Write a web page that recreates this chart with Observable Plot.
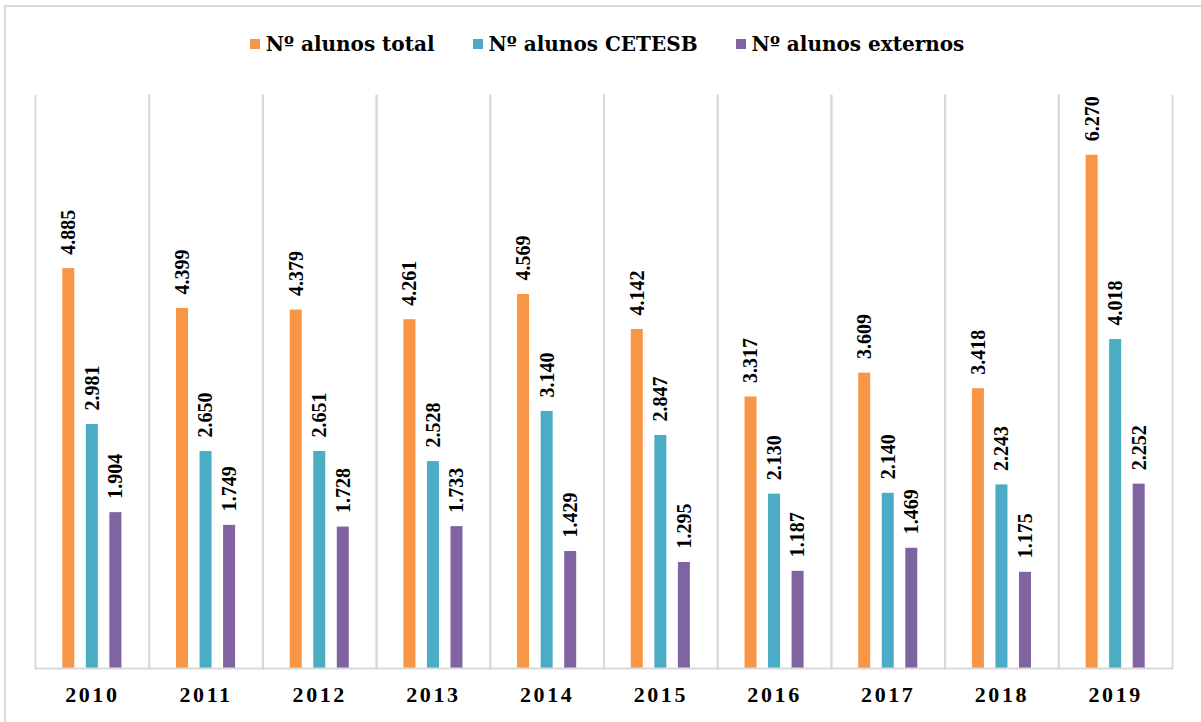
<!DOCTYPE html>
<html><head><meta charset="utf-8">
<script src="https://cdn.jsdelivr.net/npm/d3@7"></script>
<script src="https://cdn.jsdelivr.net/npm/@observablehq/plot@0.6"></script>
<style>
body{margin:0;background:#fff;}
#wrap{position:relative;width:1201px;height:722px;overflow:hidden;background:#fff;}
#border{position:absolute;left:4px;top:5px;width:1400px;height:900px;border-left:2px solid #d9d9d9;border-top:2px solid #d9d9d9;}
#legend{position:absolute;left:0;top:0;width:1201px;height:88px;display:flex;justify-content:center;align-items:center;padding-left:13px;box-sizing:border-box;font-family:"DejaVu Serif";font-weight:bold;font-size:20px;color:#000;}
.item{display:flex;align-items:center;margin:0 19px;}
.sw{width:10px;height:10px;margin-right:6px;}
#chart{position:absolute;left:0;top:80px;}
#chart svg [aria-label^="fx-axis"] text{font-size:22px;letter-spacing:2.6px;}
</style></head>
<body>
<div id="wrap">
  <div id="border"></div>
  <div id="legend"></div>
  <div id="chart"></div>
</div>
<script>
const years = ["2010","2011","2012","2013","2014","2015","2016","2017","2018","2019"];
const series = ["Nº alunos total","Nº alunos CETESB","Nº alunos externos"];
const total    = [4885, 4399, 4379, 4261, 4569, 4142, 3317, 3609, 3418, 6270];
const cetesb   = [2981, 2650, 2651, 2528, 3140, 2847, 2130, 2140, 2243, 4018];
const externos = [1904, 1749, 1728, 1733, 1429, 1295, 1187, 1469, 1175, 2252];
const colors = ["#F79646", "#4BACC6", "#8064A2"];

const rows = years.flatMap((y, i) =>
  [total[i], cetesb[i], externos[i]].map((v, j) => ({year: y, series: series[j], value: v})));
const fmt = d3.formatLocale({decimal: ",", thousands: ".", grouping: [3], currency: ["R$", ""]}).format(",");

// legend
const legend = document.getElementById("legend");
series.forEach((s, i) => {
  const it = document.createElement("div");
  it.className = "item";
  const sw = document.createElement("div");
  sw.className = "sw";
  sw.style.background = colors[i];
  const t = document.createElement("span");
  t.textContent = s;
  it.appendChild(sw); it.appendChild(t);
  legend.appendChild(it);
});

const chart = Plot.plot({
  width: 1201, height: 642,
  marginTop: 15, marginBottom: 54, marginLeft: 35, marginRight: 29,
  style: {fontFamily: "'Liberation Serif'", fontSize: "20px", fontWeight: "bold", background: "transparent", color: "#000"},
  fx: {domain: years, padding: 0, round: false, label: null, tickSize: 0, tickPadding: 18},
  x: {domain: series, paddingInner: 0.49, paddingOuter: 1.16, round: false, axis: null},
  y: {domain: [0, 7000], axis: null},
  color: {domain: series, range: colors},
  marks: [
    Plot.frame({anchor: "left", stroke: "#d9d9d9", strokeWidth: 2}),
    Plot.frame({anchor: "right", stroke: "#d9d9d9", strokeWidth: 2}),
    Plot.barY(rows, {fx: "year", x: "series", y: "value", fill: "series"}),
    Plot.text(rows, {fx: "year", x: "series", y: "value", text: d => fmt(d.value),
      rotate: -90, textAnchor: "start", dy: -14, fontWeight: "bold", fontSize: 20, fill: "#000"}),
    Plot.ruleY([0], {stroke: "#d9d9d9", strokeWidth: 2})
  ]
});
document.getElementById("chart").appendChild(chart);
</script>
</body></html>
